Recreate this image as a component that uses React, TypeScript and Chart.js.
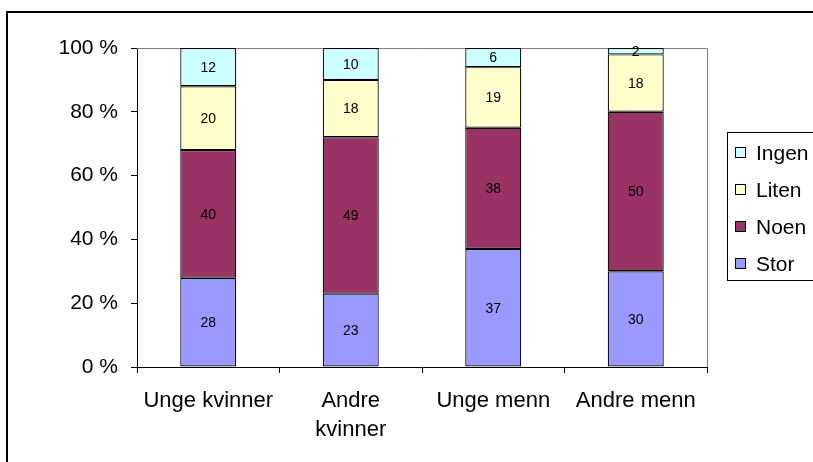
import React, { useEffect, useRef } from "react";
import { Chart, registerables } from "chart.js";

Chart.register(...registerables);

const categories: (string | string[])[] = ["Unge kvinner", ["Andre", "kvinner"], "Unge menn", "Andre menn"];
const seriesNames = ["Stor", "Noen", "Liten", "Ingen"];
const stor = [28, 23, 37, 30];
const noen = [40, 49, 38, 50];
const liten = [20, 18, 19, 18];
const ingen = [12, 10, 6, 2];
const seriesColors = ["#9999FF", "#993366", "#FFFFCC", "#CCFFFF"];
const yTicks = [0, 20, 40, 60, 80, 100];

const FONT = "Arial, 'Liberation Sans', sans-serif";

const decorPlugin = {
  id: "decor",
  beforeDraw(chart: any) {
    const ctx = chart.ctx;
    ctx.save();
    ctx.fillStyle = "#ffffff";
    ctx.fillRect(0, 0, chart.width, chart.height);
    ctx.strokeStyle = "#000";
    ctx.lineWidth = 2;
    ctx.beginPath();
    ctx.moveTo(7, chart.height + 5);
    ctx.lineTo(7, 12);
    ctx.lineTo(chart.width + 5, 12);
    ctx.stroke();
    ctx.restore();
  },
  beforeDatasetsDraw(chart: any) {
    const ctx = chart.ctx;
    const a = chart.chartArea;
    ctx.save();
    ctx.strokeStyle = "#808080";
    ctx.lineWidth = 1;
    ctx.beginPath();
    ctx.moveTo(a.left, a.top + 0.5);
    ctx.lineTo(a.right + 0.5, a.top + 0.5);
    ctx.lineTo(a.right + 0.5, a.bottom);
    ctx.stroke();
    ctx.restore();
  },
  afterDatasetsDraw(chart: any) {
    const ctx = chart.ctx;
    ctx.save();
    ctx.fillStyle = "#000";
    ctx.font = `14px ${FONT}`;
    ctx.textAlign = "center";
    ctx.textBaseline = "middle";
    chart.data.datasets.forEach((ds: any, di: number) => {
      const meta = chart.getDatasetMeta(di);
      meta.data.forEach((el: any, i: number) => {
        const v = ds.data[i];
        const cy = (el.y + el.base) / 2;
        ctx.fillText(String(v), el.x, cy + 1);
      });
    });
    // legend
    const lx = 727;
    const ly = 132;
    ctx.strokeStyle = "#000";
    ctx.lineWidth = 1;
    ctx.strokeRect(lx + 0.5, ly + 0.5, 120, 148);
    ctx.font = `21px ${FONT}`;
    ctx.textAlign = "left";
    const n = chart.data.datasets.length;
    for (let k = 0; k < n; k++) {
      const di = n - 1 - k;
      const ds = chart.data.datasets[di];
      const cy = 153 + k * 37;
      ctx.fillStyle = ds.backgroundColor;
      ctx.fillRect(735.5, cy - 5.5, 10, 10);
      ctx.strokeRect(735.5, cy - 5.5, 10, 10);
      ctx.fillStyle = "#000";
      ctx.fillText(ds.label, 756, cy + 1);
    }
    ctx.restore();
  },
};

export default function App() {
  const ref = useRef<HTMLCanvasElement | null>(null);
  useEffect(() => {
    if (!ref.current) return;
    const values = [stor, noen, liten, ingen];
    const chart = new Chart(ref.current, {
      type: "bar",
      data: {
        labels: categories,
        datasets: seriesNames.map((name, i) => ({
          label: name,
          data: values[i],
          backgroundColor: seriesColors[i],
          borderColor: "#000",
          borderWidth: 1.2,
          borderSkipped: false,
          categoryPercentage: 0.393,
          barPercentage: 1,
        })),
      },
      plugins: [decorPlugin],
      options: {
        responsive: false,
        animation: false,
        layout: { padding: { left: 0, top: 48, right: 106, bottom: 0 } },
        plugins: { legend: { display: false }, tooltip: { enabled: false } },
        scales: {
          x: {
            stacked: true,
            afterFit: (s: any) => {
              s.height = 95;
            },
            grid: {
              offset: true,
              drawOnChartArea: false,
              drawTicks: true,
              tickLength: 6,
              color: "#000",
            },
            border: { color: "#000", width: 1 },
            ticks: {
              color: "#000",
              padding: 13,
              maxRotation: 0,
              autoSkip: false,
              font: { family: FONT, size: 22, lineHeight: 1.33 },
            },
          },
          y: {
            stacked: true,
            min: 0,
            max: 100,
            afterFit: (s: any) => {
              s.width = 137;
            },
            afterBuildTicks: (s: any) => {
              s.ticks = yTicks.map((v) => ({ value: v }));
            },
            grid: {
              drawOnChartArea: false,
              drawTicks: true,
              tickLength: 6,
              color: "#000",
            },
            border: { color: "#000", width: 1 },
            ticks: {
              color: "#000",
              padding: 13,
              font: { family: FONT, size: 21 },
              callback: (v: any) => `${v} %`,
            },
          },
        },
      },
    });
    return () => chart.destroy();
  }, []);
  return (
    <div style={{ position: "absolute", left: 0, top: 0, width: 813, height: 462 }}>
      <canvas ref={ref} width={813} height={462} style={{ width: 813, height: 462, display: "block" }} />
    </div>
  );
}
